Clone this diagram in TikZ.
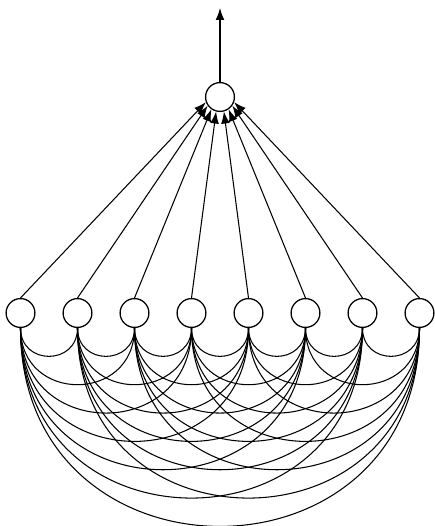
\documentclass[tikz,border=0pt]{standalone}
\usepackage{tikz}
\usetikzlibrary{arrows.meta}
\tikzset{unit/.style={circle,draw,line width=0.9pt,minimum size=7.2mm,inner sep=0pt},
  feed/.style={-{Latex[length=3mm,width=2.2mm]},line width=0.75pt}}

\begin{document}
\begin{tikzpicture}[line width=0.75pt]
\useasboundingbox (0,0) rectangle (10.875,13.15);
\node[unit] (top) at (5.5,10.725) {};
\coordinate (exit) at (5.5,12.95);
\draw[feed] (top) -- (exit);
% input layer
\foreach \i/\a in {1/200,2/215,3/235,4/255,5/285,6/305,7/325,8/340} {
  \node[unit] (b\i) at ({5.5+1.425*(\i-4.5)},5.325) {};
  \draw[feed] (b\i.north) -- (top.\a);
}
% lateral links below
\foreach \i in {1,...,7} {
  \pgfmathtruncatemacro{\nexti}{\i+1}
  \foreach \j in {\nexti,...,8}
    \draw (b\i.south) to[out=-90,in=-90,looseness=1.7] (b\j.south);
}
\end{tikzpicture}
\end{document}
